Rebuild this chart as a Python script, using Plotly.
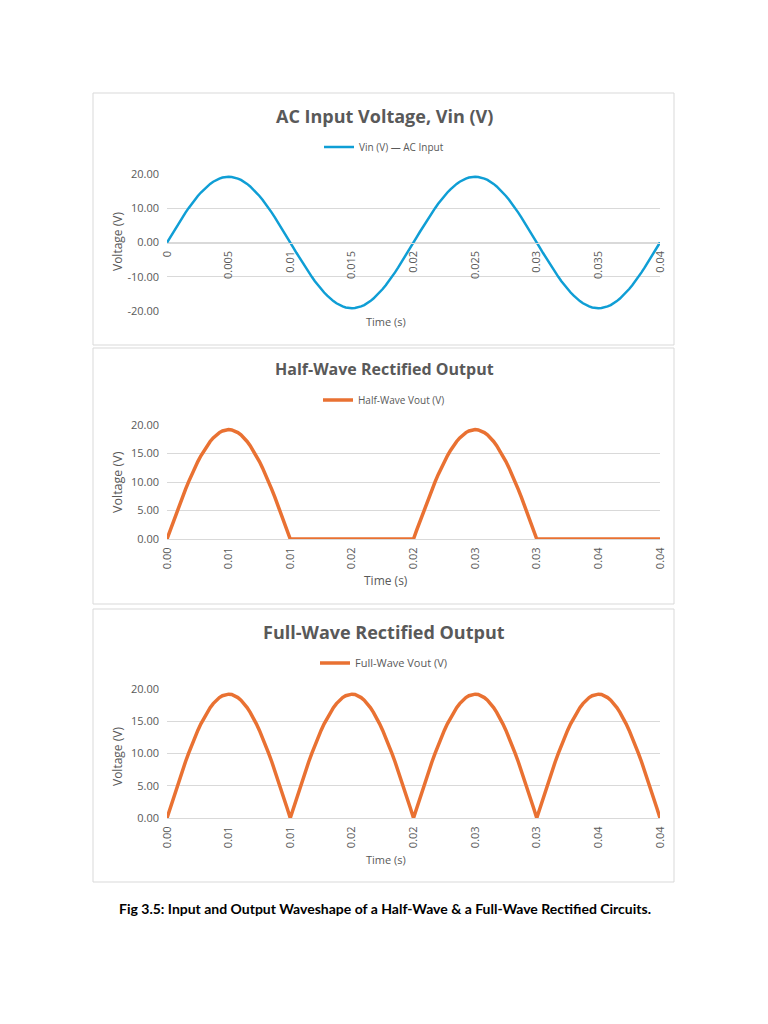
import plotly.graph_objects as go

# Time axis (s), 0.25 ms steps over two 50 Hz cycles
time_s = [
    0.00000, 0.00025, 0.00050, 0.00075, 0.00100, 0.00125, 0.00150, 0.00175, 0.00200, 0.00225,
    0.00250, 0.00275, 0.00300, 0.00325, 0.00350, 0.00375, 0.00400, 0.00425, 0.00450, 0.00475,
    0.00500, 0.00525, 0.00550, 0.00575, 0.00600, 0.00625, 0.00650, 0.00675, 0.00700, 0.00725,
    0.00750, 0.00775, 0.00800, 0.00825, 0.00850, 0.00875, 0.00900, 0.00925, 0.00950, 0.00975,
    0.01000, 0.01025, 0.01050, 0.01075, 0.01100, 0.01125, 0.01150, 0.01175, 0.01200, 0.01225,
    0.01250, 0.01275, 0.01300, 0.01325, 0.01350, 0.01375, 0.01400, 0.01425, 0.01450, 0.01475,
    0.01500, 0.01525, 0.01550, 0.01575, 0.01600, 0.01625, 0.01650, 0.01675, 0.01700, 0.01725,
    0.01750, 0.01775, 0.01800, 0.01825, 0.01850, 0.01875, 0.01900, 0.01925, 0.01950, 0.01975,
    0.02000, 0.02025, 0.02050, 0.02075, 0.02100, 0.02125, 0.02150, 0.02175, 0.02200, 0.02225,
    0.02250, 0.02275, 0.02300, 0.02325, 0.02350, 0.02375, 0.02400, 0.02425, 0.02450, 0.02475,
    0.02500, 0.02525, 0.02550, 0.02575, 0.02600, 0.02625, 0.02650, 0.02675, 0.02700, 0.02725,
    0.02750, 0.02775, 0.02800, 0.02825, 0.02850, 0.02875, 0.02900, 0.02925, 0.02950, 0.02975,
    0.03000, 0.03025, 0.03050, 0.03075, 0.03100, 0.03125, 0.03150, 0.03175, 0.03200, 0.03225,
    0.03250, 0.03275, 0.03300, 0.03325, 0.03350, 0.03375, 0.03400, 0.03425, 0.03450, 0.03475,
    0.03500, 0.03525, 0.03550, 0.03575, 0.03600, 0.03625, 0.03650, 0.03675, 0.03700, 0.03725,
    0.03750, 0.03775, 0.03800, 0.03825, 0.03850, 0.03875, 0.03900, 0.03925, 0.03950, 0.03975,
    0.04000,
]

vin = [
    0.00, 1.51, 3.00, 4.48, 5.93, 7.35, 8.72, 10.03, 11.29, 12.47,
    13.58, 14.60, 15.53, 16.37, 17.11, 17.74, 18.26, 18.67, 18.96, 19.14,
    19.20, 19.14, 18.96, 18.67, 18.26, 17.74, 17.11, 16.37, 15.53, 14.60,
    13.58, 12.47, 11.29, 10.03, 8.72, 7.35, 5.93, 4.48, 3.00, 1.51,
    0.00, -1.51, -3.00, -4.48, -5.93, -7.35, -8.72, -10.03, -11.29, -12.47,
    -13.58, -14.60, -15.53, -16.37, -17.11, -17.74, -18.26, -18.67, -18.96, -19.14,
    -19.20, -19.14, -18.96, -18.67, -18.26, -17.74, -17.11, -16.37, -15.53, -14.60,
    -13.58, -12.47, -11.29, -10.03, -8.72, -7.35, -5.93, -4.48, -3.00, -1.51,
    0.00, 1.51, 3.00, 4.48, 5.93, 7.35, 8.72, 10.03, 11.29, 12.47,
    13.58, 14.60, 15.53, 16.37, 17.11, 17.74, 18.26, 18.67, 18.96, 19.14,
    19.20, 19.14, 18.96, 18.67, 18.26, 17.74, 17.11, 16.37, 15.53, 14.60,
    13.58, 12.47, 11.29, 10.03, 8.72, 7.35, 5.93, 4.48, 3.00, 1.51,
    0.00, -1.51, -3.00, -4.48, -5.93, -7.35, -8.72, -10.03, -11.29, -12.47,
    -13.58, -14.60, -15.53, -16.37, -17.11, -17.74, -18.26, -18.67, -18.96, -19.14,
    -19.20, -19.14, -18.96, -18.67, -18.26, -17.74, -17.11, -16.37, -15.53, -14.60,
    -13.58, -12.47, -11.29, -10.03, -8.72, -7.35, -5.93, -4.48, -3.00, -1.51,
    0.00,
]

half_wave = [
    0.00, 1.51, 3.00, 4.48, 5.93, 7.35, 8.72, 10.03, 11.29, 12.47,
    13.58, 14.60, 15.53, 16.37, 17.11, 17.74, 18.26, 18.67, 18.96, 19.14,
    19.20, 19.14, 18.96, 18.67, 18.26, 17.74, 17.11, 16.37, 15.53, 14.60,
    13.58, 12.47, 11.29, 10.03, 8.72, 7.35, 5.93, 4.48, 3.00, 1.51,
    0.00, 0.00, 0.00, 0.00, 0.00, 0.00, 0.00, 0.00, 0.00, 0.00,
    0.00, 0.00, 0.00, 0.00, 0.00, 0.00, 0.00, 0.00, 0.00, 0.00,
    0.00, 0.00, 0.00, 0.00, 0.00, 0.00, 0.00, 0.00, 0.00, 0.00,
    0.00, 0.00, 0.00, 0.00, 0.00, 0.00, 0.00, 0.00, 0.00, 0.00,
    0.00, 1.51, 3.00, 4.48, 5.93, 7.35, 8.72, 10.03, 11.29, 12.47,
    13.58, 14.60, 15.53, 16.37, 17.11, 17.74, 18.26, 18.67, 18.96, 19.14,
    19.20, 19.14, 18.96, 18.67, 18.26, 17.74, 17.11, 16.37, 15.53, 14.60,
    13.58, 12.47, 11.29, 10.03, 8.72, 7.35, 5.93, 4.48, 3.00, 1.51,
    0.00, 0.00, 0.00, 0.00, 0.00, 0.00, 0.00, 0.00, 0.00, 0.00,
    0.00, 0.00, 0.00, 0.00, 0.00, 0.00, 0.00, 0.00, 0.00, 0.00,
    0.00, 0.00, 0.00, 0.00, 0.00, 0.00, 0.00, 0.00, 0.00, 0.00,
    0.00, 0.00, 0.00, 0.00, 0.00, 0.00, 0.00, 0.00, 0.00, 0.00,
    0.00,
]

full_wave = [
    0.00, 1.51, 3.00, 4.48, 5.93, 7.35, 8.72, 10.03, 11.29, 12.47,
    13.58, 14.60, 15.53, 16.37, 17.11, 17.74, 18.26, 18.67, 18.96, 19.14,
    19.20, 19.14, 18.96, 18.67, 18.26, 17.74, 17.11, 16.37, 15.53, 14.60,
    13.58, 12.47, 11.29, 10.03, 8.72, 7.35, 5.93, 4.48, 3.00, 1.51,
    0.00, 1.51, 3.00, 4.48, 5.93, 7.35, 8.72, 10.03, 11.29, 12.47,
    13.58, 14.60, 15.53, 16.37, 17.11, 17.74, 18.26, 18.67, 18.96, 19.14,
    19.20, 19.14, 18.96, 18.67, 18.26, 17.74, 17.11, 16.37, 15.53, 14.60,
    13.58, 12.47, 11.29, 10.03, 8.72, 7.35, 5.93, 4.48, 3.00, 1.51,
    0.00, 1.51, 3.00, 4.48, 5.93, 7.35, 8.72, 10.03, 11.29, 12.47,
    13.58, 14.60, 15.53, 16.37, 17.11, 17.74, 18.26, 18.67, 18.96, 19.14,
    19.20, 19.14, 18.96, 18.67, 18.26, 17.74, 17.11, 16.37, 15.53, 14.60,
    13.58, 12.47, 11.29, 10.03, 8.72, 7.35, 5.93, 4.48, 3.00, 1.51,
    0.00, 1.51, 3.00, 4.48, 5.93, 7.35, 8.72, 10.03, 11.29, 12.47,
    13.58, 14.60, 15.53, 16.37, 17.11, 17.74, 18.26, 18.67, 18.96, 19.14,
    19.20, 19.14, 18.96, 18.67, 18.26, 17.74, 17.11, 16.37, 15.53, 14.60,
    13.58, 12.47, 11.29, 10.03, 8.72, 7.35, 5.93, 4.48, 3.00, 1.51,
    0.00,
]

# tick positions and the labels Excel printed for them
x_tickvals = [0, 0.005, 0.01, 0.015, 0.02, 0.025, 0.03, 0.035, 0.04]
vin_ticktext = ["0", "0.005", "0.01", "0.015", "0.02", "0.025", "0.03", "0.035", "0.04"]
out_ticktext = ["0.00", "0.01", "0.01", "0.02", "0.02", "0.03", "0.03", "0.04", "0.04"]
vin_yticks = [-20, -10, 0, 10, 20]
vin_yticktext = ["-20.00", "-10.00", "0.00", "10.00", "20.00"]
out_yticks = [0, 5, 10, 15, 20]
out_yticktext = ["0.00", "5.00", "10.00", "15.00", "20.00"]

BLUE = "#0F9ED5"
ORANGE = "#E97132"
GREY = "#595959"
GRID = "#D9D9D9"
FONT = "Open Sans"

W, H = 768, 1024
OFF = 8  # page body margin around the plot div


def py(px):
    # page pixel row -> paper y
    return 1 - (px - OFF) / H


def pxx(px):
    return (px - OFF) / W


fig = go.Figure()

fig.add_trace(go.Scatter(x=time_s, y=vin, mode="lines", name="Vin (V) — AC Input",
                         line=dict(color=BLUE, width=2.5),
                         xaxis="x", yaxis="y", legend="legend"))
fig.add_trace(go.Scatter(x=time_s, y=half_wave, mode="lines", name="Half-Wave Vout (V)",
                         line=dict(color=ORANGE, width=3.5), xaxis="x2", yaxis="y2",
                         legend="legend2"))
fig.add_trace(go.Scatter(x=time_s, y=full_wave, mode="lines", name="Full-Wave Vout (V)",
                         line=dict(color=ORANGE, width=3.5), xaxis="x3", yaxis="y3",
                         legend="legend3"))

tick_font = dict(family=FONT, size=11, color=GREY)
xdom = [pxx(167), pxx(660)]

xcommon = dict(range=[0, 0.04], tickmode="array", tickvals=x_tickvals, tickangle=-90,
               showgrid=False, zeroline=False, showline=True, linecolor=GRID,
               ticks="", tickfont=tick_font, domain=xdom, automargin=False,
               ticklabelstandoff=3)
ycommon = dict(tickmode="array", showgrid=True, gridcolor=GRID,
               zeroline=True, zerolinecolor=GRID, showline=False, ticks="",
               tickfont=tick_font, automargin=False, ticklabelstandoff=7)

fig.update_layout(
    xaxis=dict(xcommon, ticktext=vin_ticktext, anchor="free", position=py(242.5)),
    yaxis=dict(ycommon, range=[-20, 20], tickvals=vin_yticks, ticktext=vin_yticktext,
               domain=[py(311), py(174)], anchor="x"),
    xaxis2=dict(xcommon, ticktext=out_ticktext, anchor="y2"),
    yaxis2=dict(ycommon, range=[0, 20], tickvals=out_yticks, ticktext=out_yticktext,
                domain=[py(539), py(425)], anchor="x2"),
    xaxis3=dict(xcommon, ticktext=out_ticktext, anchor="y3"),
    yaxis3=dict(ycommon, range=[0, 20], tickvals=out_yticks, ticktext=out_yticktext,
                domain=[py(818), py(689)], anchor="x3"),
)

legend_font = dict(family=FONT, size=10, color=GREY)
fig.update_layout(
    legend=dict(x=0.5 - OFF / W, xanchor="center", y=py(147), yanchor="middle",
                orientation="h", font=legend_font, bgcolor="rgba(0,0,0,0)"),
    legend2=dict(x=0.5 - OFF / W, xanchor="center", y=py(400), yanchor="middle",
                 orientation="h", font=legend_font, bgcolor="rgba(0,0,0,0)"),
    legend3=dict(x=0.5 - OFF / W, xanchor="center", y=py(663), yanchor="middle",
                 orientation="h", font=dict(legend_font, size=11), bgcolor="rgba(0,0,0,0)"),
)

# chart frames
for top, bottom in [(93, 345), (348, 604), (609, 882)]:
    fig.add_shape(type="rect", xref="paper", yref="paper",
                  x0=pxx(93), x1=pxx(674), y0=py(bottom), y1=py(top),
                  line=dict(color=GRID, width=1), fillcolor="rgba(0,0,0,0)", layer="below")

# chart titles
titles = [("AC Input Voltage, Vin (V)", 116, 18),
          ("Half-Wave Rectified Output", 369, 16),
          ("Full-Wave Rectified Output", 632, 18)]
for text, ypx, size in titles:
    fig.add_annotation(text="<b>%s</b>" % text, x=pxx(384), y=py(ypx), xref="paper",
                       yref="paper", showarrow=False, xanchor="center", yanchor="middle",
                       font=dict(family=FONT, size=size, color=GREY))

# axis titles
for ypx, size in [(321, 11), (580, 12), (859, 11)]:
    fig.add_annotation(text="Time (s)", x=pxx(386), y=py(ypx), xref="paper", yref="paper",
                       showarrow=False, xanchor="center", yanchor="middle",
                       font=dict(family=FONT, size=size, color=GREY))
for ypx, size in [(242, 12), (482, 12.5), (757, 12)]:
    fig.add_annotation(text="Voltage (V)", x=pxx(117), y=py(ypx), xref="paper", yref="paper",
                       showarrow=False, xanchor="center", yanchor="middle", textangle=-90,
                       font=dict(family=FONT, size=size, color=GREY))

# figure caption
fig.add_annotation(
    text="<b>Fig 3.5: Input and Output Waveshape of a Half-Wave & a Full-Wave Rectified Circuits.</b>",
    x=pxx(385), y=py(908), xref="paper", yref="paper", showarrow=False,
    xanchor="center", yanchor="middle", font=dict(family="Lato", size=14, color="black"))

fig.update_layout(width=W, height=H,
                  margin=dict(l=0, r=0, t=0, b=0, pad=0, autoexpand=False),
                  paper_bgcolor="white", plot_bgcolor="white", showlegend=True)

fig.write_html("out.html")
